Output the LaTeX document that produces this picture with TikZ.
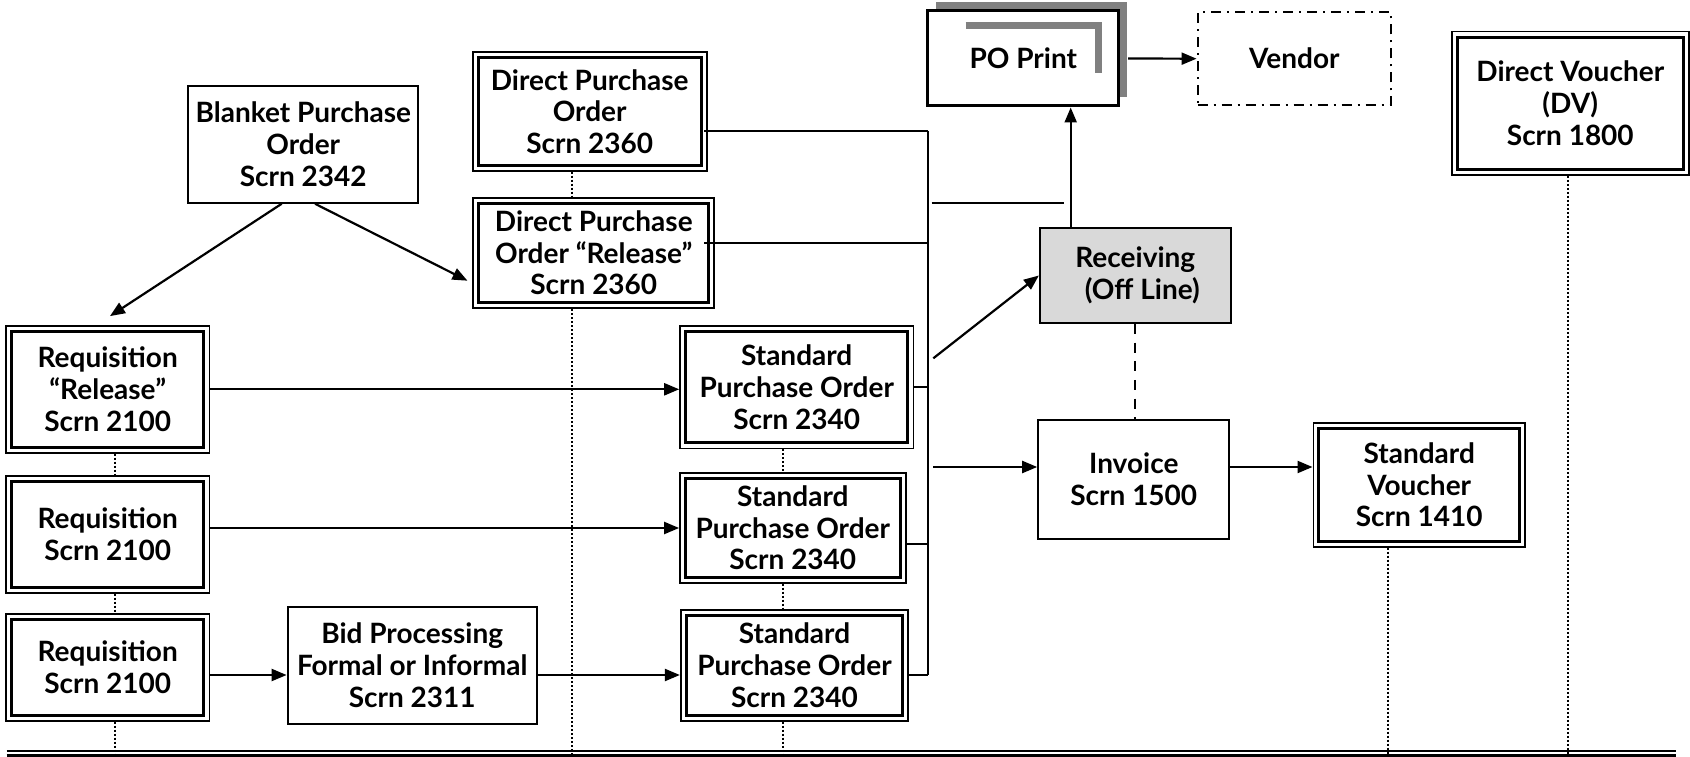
\documentclass[tikz,border=0pt]{standalone}
\usepackage{fontspec}
\setmainfont{Lato}
\usetikzlibrary{arrows.meta,shadows}
\definecolor{shadowgray}{HTML}{808080}
\definecolor{recvgray}{HTML}{D9D9D9}
\begin{document}
\begin{tikzpicture}[x=1pt,y=-1pt,
  every node/.style={font=\bfseries\fontsize{28}{31.7}\selectfont, align=center, inner sep=0pt},
  plainbox/.style={draw, line width=2.2pt, fill=white},
  dblbox/.style={draw, line width=1.7pt, fill=white,
    path picture={\draw[line width=2.8pt]
      ([shift={(5.5pt,5.5pt)}]path picture bounding box.south west) rectangle
      ([shift={(-5.5pt,-5.5pt)}]path picture bounding box.north east);}},
  link/.style={line width=2.2pt},
  arr/.style={link, -{Triangle[length=15pt,width=12pt]}},
  dots/.style={line width=2.2pt, dash pattern=on 2.2pt off 1.8pt}]
  \useasboundingbox (0,0) rectangle (1690,757);

  \node[plainbox, minimum width=230pt, minimum height=116.7pt] (blanket) at (303.3,144.3) {Blanket Purchase\\Order\\Scrn 2342};
  \node[dblbox, minimum width=234pt, minimum height=118.4pt] (dpo) at (589.7,111.5) {Direct Purchase\\Order\\Scrn 2360};
  \node[dblbox, minimum width=241pt, minimum height=110.6pt] (dporel) at (593.8,253) {Direct Purchase\\Order “Release”\\Scrn 2360};
  \node[dblbox, minimum width=203.3pt, minimum height=126.7pt] (reqrel) at (107.7,389.3) {Requisition\\“Release”\\Scrn 2100};
  \node[dblbox, minimum width=203.3pt, minimum height=116.7pt] (req2) at (107.7,534.3) {Requisition\\Scrn 2100};
  \node[dblbox, minimum width=203.3pt, minimum height=106.7pt] (req3) at (107.7,667.3) {Requisition\\Scrn 2100};
  \node[plainbox, minimum width=249pt, minimum height=117.3pt] (bid) at (412.2,665.3) {Bid Processing\\Formal or Informal\\Scrn 2311};
  \node[dblbox, minimum width=233.3pt, minimum height=122.3pt] (spo1) at (796.7,387.2) {Standard\\Purchase Order\\Scrn 2340};
  \node[dblbox, minimum width=225.7pt, minimum height=109.4pt] (spo2) at (792.8,528) {Standard\\Purchase Order\\Scrn 2340};
  \node[dblbox, minimum width=227.6pt, minimum height=110.7pt] (spo3) at (794.5,665.3) {Standard\\Purchase Order\\Scrn 2340};
  \node[draw, line width=3pt, fill=white, minimum width=191.3pt, minimum height=95pt,
    general shadow={fill=shadowgray, shadow xshift=8.5pt, shadow yshift=8.5pt},
    path picture={\draw[shadowgray, line width=7pt]
      ([shift={(38pt,-14.5pt)}]path picture bounding box.north west) --
      ([shift={(-20pt,-14.5pt)}]path picture bounding box.north east) --
      ([shift={(-20pt,33pt)}]path picture bounding box.south east);}] (poprint) at (1023.3,58.5) {PO Print};
  \node[draw, line width=2.2pt, dash pattern=on 10pt off 6pt on 2pt off 6pt, minimum width=193.3pt, minimum height=92.7pt] (vendor) at (1294.3,58.7) {Vendor};
  \node[draw, line width=2.2pt, fill=recvgray, minimum width=190.7pt, minimum height=94.4pt] (recv) at (1135.3,275.5) {Receiving\\\hspace*{0.5em}(Off Line)};
  \node[plainbox, minimum width=191pt, minimum height=119pt] (invoice) at (1133.8,479.5) {Invoice\\Scrn 1500};
  \node[dblbox, minimum width=211.7pt, minimum height=123.4pt] (voucher) at (1419.2,485) {Standard\\Voucher\\Scrn 1410};
  \node[dblbox, minimum width=237.3pt, minimum height=143.3pt] (dv) at (1570.3,103.3) {Direct Voucher\\(DV)\\Scrn 1800};

  \coordinate (busTop) at (927.7,131);
  \coordinate (busBot) at (927.7,675);
  \coordinate (stubL) at (931.7,203.3);
  \coordinate (stubR) at (1064.3,203.3);
  \coordinate (diagStart) at (933.3,358.3);
  \coordinate (invStart) at (933.3,467);
  \coordinate (floorL) at (6.7,750.7);
  \coordinate (floorR) at (1675.7,750.7);
  \coordinate (floorB) at (0,757);
  \coordinate (printIn) at ([xshift=47.4pt]poprint.south);
  \coordinate (spo2r) at ([yshift=-16pt]spo2.east);

  \draw[arr] ([xshift=-21.6pt]blanket.south) -- ([shift={(2.3pt,9pt)}]reqrel.north);
  \draw[arr] ([xshift=11.7pt]blanket.south) -- ([shift={(-5pt,-27.7pt)}]dporel.west);
  \draw[arr] (reqrel.east) -- (reqrel.east -| spo1.west);
  \draw[arr] (spo2.west -| req2.east) -- (spo2.west);
  \draw[arr] (req3.east |- busBot) -- (bid.west |- busBot);
  \draw[arr] (bid.east |- busBot) -- (spo3.west |- busBot);

  \draw[link] (busTop) -- (busBot);
  \draw[link, line width=1.6pt, shorten <=-3.4pt] (dpo.east |- busTop) -- (busTop);
  \draw[link, line width=1.6pt, shorten <=-11pt] (dporel.east |- 0,242.7) -- (busTop |- 0,242.7);
  \draw[link] (spo1.east) -- (spo1.east -| busTop);
  \draw[link] (spo2r) -- (spo2r -| busTop);
  \draw[link] (spo3.east |- busBot) -- (busBot);
  \draw[link] (stubL) -- (stubR);

  \draw[arr] (diagStart) -- (recv.west);
  \draw[arr] (printIn |- recv.north) -- (printIn);
  \draw[arr] ([xshift=7.7pt]poprint.east) -- (vendor.west);
  \draw[link, dash pattern=on 10pt off 8.7pt] (recv.south) -- (recv.south |- invoice.north);
  \draw[arr] (invStart) -- (invStart -| invoice.west);
  \draw[arr] (invStart -| invoice.east) -- (invStart -| voucher.west);

  \coordinate (dotR) at ([xshift=7.3pt]reqrel.south);
  \coordinate (dotD) at ([xshift=-18pt]dpo.south);
  \coordinate (dotS) at ([xshift=-13.4pt]spo1.south);
  \coordinate (dotV) at ([xshift=-31.5pt]voucher.south);
  \coordinate (dotX) at ([xshift=-2.6pt]dv.south);
  \draw[dots] (dotR) -- (dotR |- req2.north);
  \draw[dots] (dotR |- req2.south) -- (dotR |- req3.north);
  \draw[dots] (dotR |- req3.south) -- (dotR |- floorB);
  \draw[dots] (dotD) -- (dotD |- dporel.north);
  \draw[dots] (dotD |- dporel.south) -- (dotD |- floorB);
  \draw[dots] (dotS) -- (dotS |- spo2.north);
  \draw[dots] (dotS |- spo2.south) -- (dotS |- spo3.north);
  \draw[dots] (dotS |- spo3.south) -- (dotS |- floorB);
  \draw[dots] (dotV) -- (dotV |- floorB);
  \draw[dots] (dotX) -- (dotX |- floorB);

  \draw[line width=1.6pt] (floorL) -- (floorR);
  \draw[line width=2.6pt] ([yshift=-5pt]floorL) -- ([yshift=-5pt]floorR);
\end{tikzpicture}
\end{document}
